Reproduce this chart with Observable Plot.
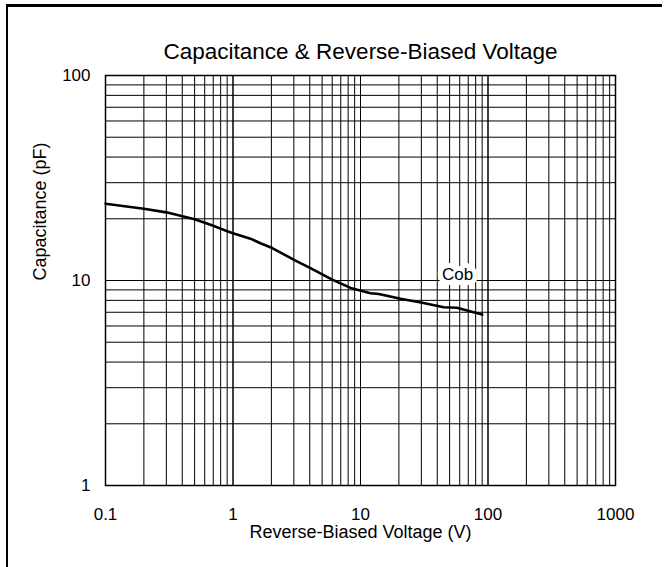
<!DOCTYPE html>
<html>
<head>
<meta charset="utf-8">
<script src="https://cdn.jsdelivr.net/npm/d3@7"></script>
<script src="https://cdn.jsdelivr.net/npm/@observablehq/plot@0.6"></script>
<style>
  html, body { margin: 0; padding: 0; background: #fff; }
  #wrap { position: relative; width: 666px; height: 567px; overflow: hidden; font-family: "Liberation Sans", Arial, sans-serif; }
  #border { position: absolute; left: 6px; top: 4px; width: 656px; height: 600px; border-top: 3px solid #000; border-left: 2px solid #000; box-sizing: border-box; pointer-events: none; }
  #chart { position: absolute; left: 0; top: 0; }
</style>
</head>
<body>
<div id="wrap"><div id="chart"></div><div id="border"></div></div>
<script>
// Data
const voltage = [0.1, 0.2, 0.3, 0.5, 0.7, 0.8, 0.9, 1, 1.37, 1.64, 2.03, 3.09, 4.05, 6.0, 8.36, 12, 13.9, 20.6, 30.5, 45, 57, 90];
const capacitance = [23.7, 22.4, 21.5, 19.9, 18.5, 17.9, 17.4, 17.0, 16.0, 15.2, 14.4, 12.5, 11.5, 10.1, 9.2, 8.67, 8.6, 8.15, 7.79, 7.41, 7.36, 6.82];
const xTicks = [0.1, 1, 10, 100, 1000];
const xTickLabels = ["0.1", "1", "10", "100", "1000"];
const yTicks = [1, 10, 100];
const yTickLabels = ["1", "10", "100"];
const seriesName = "Cob";
const seriesLabelAt = {x: 57.7, y: 10.7};
const titleText = "Capacitance & Reverse-Biased Voltage";
const xLabel = "Reverse-Biased Voltage (V)";
const yLabel = "Capacitance (pF)";

const xGrid = [];
for (const d of [0.1, 1, 10, 100]) for (let k = 1; k <= 10; k++) xGrid.push(d * k);
const yGrid = [];
for (const d of [1, 10]) for (let k = 1; k <= 10; k++) yGrid.push(d * k);

const data = voltage.map((v, i) => ({v, c: capacitance[i]}));
const font = "'Liberation Sans', Arial, sans-serif";

const plot = Plot.plot({
  width: 666,
  height: 567,
  marginLeft: 105,
  marginRight: 51,
  marginTop: 75,
  marginBottom: 82,
  style: {fontFamily: font, background: "#fff", color: "#000"},
  x: {type: "log", domain: [0.1, 1000]},
  y: {type: "log", domain: [1, 100]},
  marks: [
    Plot.ruleX(xGrid, {x: d => d, stroke: "#000", strokeWidth: 1}),
    Plot.ruleY(yGrid, {y: d => d, stroke: "#000", strokeWidth: 1}),
    Plot.frame({stroke: "#000", strokeWidth: 1.5}),
    Plot.line(data, {x: "v", y: "c", stroke: "#000", strokeWidth: 2.6}),
    Plot.text([seriesLabelAt], {x: "x", y: "y", text: () => seriesName, fontSize: 17, fill: "#000", stroke: "#fff", strokeWidth: 10, paintOrder: "stroke", lineAnchor: "middle"}),
    Plot.axisX({ticks: xTicks, tickFormat: (d, i) => xTickLabels[xTicks.indexOf(d)], tickSize: 0, tickPadding: 22, fontSize: 17, label: null}),
    Plot.axisY({ticks: yTicks, tickFormat: (d) => yTickLabels[yTicks.indexOf(d)], tickSize: 0, tickPadding: 15, fontSize: 17, label: null}),
    Plot.text([titleText], {frameAnchor: "top", dy: -17, lineAnchor: "bottom", text: d => d, fontSize: 22.5, fill: "#000"}),
    Plot.text([xLabel], {frameAnchor: "bottom", dy: 40, lineAnchor: "top", text: d => d, fontSize: 18, fill: "#000"}),
    Plot.text([yLabel], {frameAnchor: "left", dx: -65, rotate: -90, lineAnchor: "middle", text: d => d, fontSize: 18, fill: "#000"})
  ]
});
document.getElementById("chart").appendChild(plot);
</script>
</body>
</html>
